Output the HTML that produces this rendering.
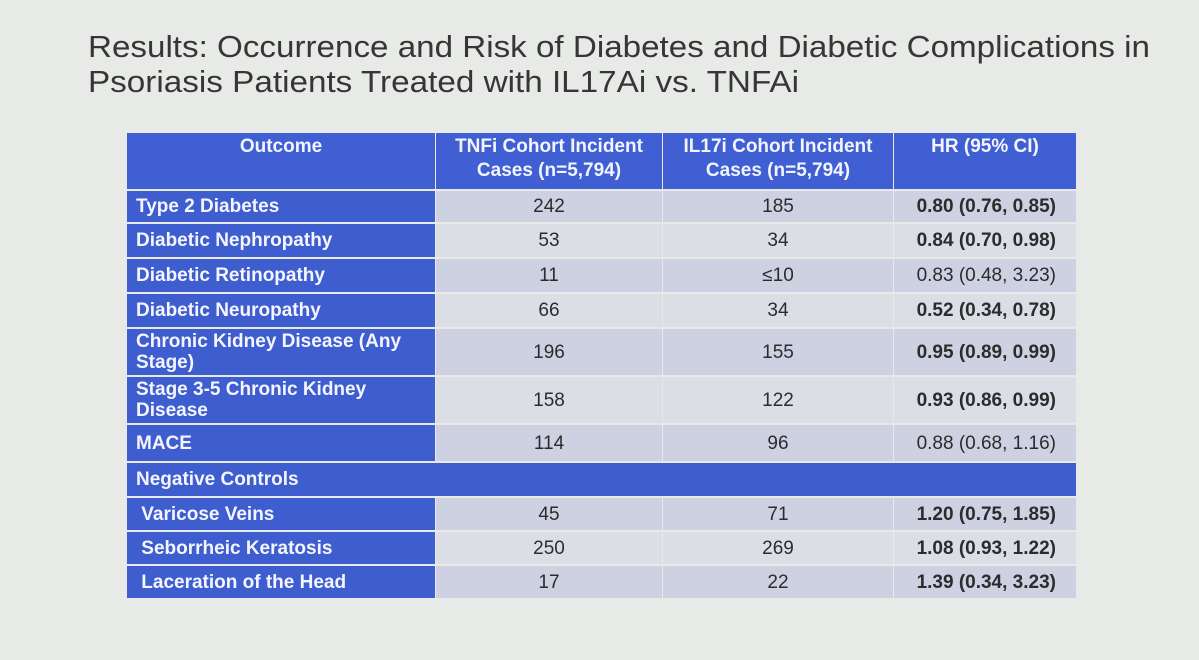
<!DOCTYPE html>
<html><head><meta charset="utf-8"><style>
body{margin:0;width:1199px;height:660px;background:#e8eae7;overflow:hidden;font-family:"Liberation Sans",sans-serif;position:relative}
.c{position:absolute;box-sizing:border-box;display:flex;align-items:center;font-size:19px;color:#2c2c2c;line-height:21px}
.h{background:#3f5fd2;color:#f2f4ff;font-weight:bold;justify-content:center;text-align:center;align-items:flex-start;padding-top:2px;line-height:24px}
.f{background:#3e5ed0;color:#f4f5ff;font-weight:bold;padding-left:9px}
.n{justify-content:center}
.r{justify-content:flex-end;padding-right:20px}
.b{font-weight:bold}
</style></head><body>
<svg width="1199" height="110" style="position:absolute;left:0;top:0">
<text x="88" y="57" font-family="Liberation Sans, sans-serif" font-size="31" fill="#363636" textLength="1062" lengthAdjust="spacingAndGlyphs">Results: Occurrence and Risk of Diabetes and Diabetic Complications in</text>
<text x="88" y="92" font-family="Liberation Sans, sans-serif" font-size="31" fill="#363636" textLength="711" lengthAdjust="spacingAndGlyphs">Psoriasis Patients Treated with IL17Ai vs. TNFAi</text>
</svg>
<div id="tbl"></div>
<script>
const outcomes=["Type 2 Diabetes","Diabetic Nephropathy","Diabetic Retinopathy","Diabetic Neuropathy","Chronic Kidney Disease (Any<br>Stage)","Stage 3-5 Chronic Kidney<br>Disease","MACE","Negative Controls","&nbsp;Varicose Veins","&nbsp;Seborrheic Keratosis","&nbsp;Laceration of the Head"];
const tnfi=["242","53","11","66","196","158","114","","45","250","17"];
const il17=["185","34","≤10","34","155","122","96","","71","269","22"];
const hr=["0.80 (0.76, 0.85)","0.84 (0.70, 0.98)","0.83 (0.48, 3.23)","0.52 (0.34, 0.78)","0.95 (0.89, 0.99)","0.93 (0.86, 0.99)","0.88 (0.68, 1.16)","","1.20 (0.75, 1.85)","1.08 (0.93, 1.22)","1.39 (0.34, 3.23)"];
const boldHR=[1,1,0,1,1,1,0,0,1,1,1];
const rowTops=[190,223,258,293,328,376,424,462,497,531,565,599];
const colX=[127,435,662,893,1076];
const tbl=document.getElementById('tbl');
function cell(x,y,w,h,cls,html,name){
 const d=document.createElement('div');
 d.className='c '+cls;
 d.style.left=x+'px';d.style.top=y+'px';d.style.width=w+'px';d.style.height=h+'px';
 d.innerHTML=html;
 
 
 tbl.appendChild(d);
}
const heads=["Outcome","TNFi Cohort Incident<br>Cases (n=5,794)","IL17i Cohort Incident<br>Cases (n=5,794)","HR (95% CI)"];
for(let i=0;i<4;i++) cell(colX[i]+(i?1:0),133,colX[i+1]-colX[i]-(i?1:0),56,'h',heads[i],'header-cell');
for(let r=0;r<outcomes.length;r++){
 const y=rowTops[r]+1,h=rowTops[r+1]-rowTops[r]-2;
 if(r===7){cell(colX[0],y,colX[4]-colX[0],h,'f',outcomes[r],'negative-controls-row');continue;}
 const bg=r%2===0?'#cdd1e2':'#dcdee6';
 cell(colX[0],y,colX[1]-colX[0],h,'f',outcomes[r],'outcome-label');
 const vals=[tnfi[r],il17[r],hr[r]];
 for(let c=0;c<3;c++){
  const cls=c<2?'n':('r'+(boldHR[r]?' b':''));
  cell(colX[c+1]+1,y,colX[c+2]-colX[c+1]-1,h,cls,vals[c],c<2?'count-cell':'hr-cell');
  tbl.lastChild.style.background=bg;
 }
}
</script>
</body></html>
